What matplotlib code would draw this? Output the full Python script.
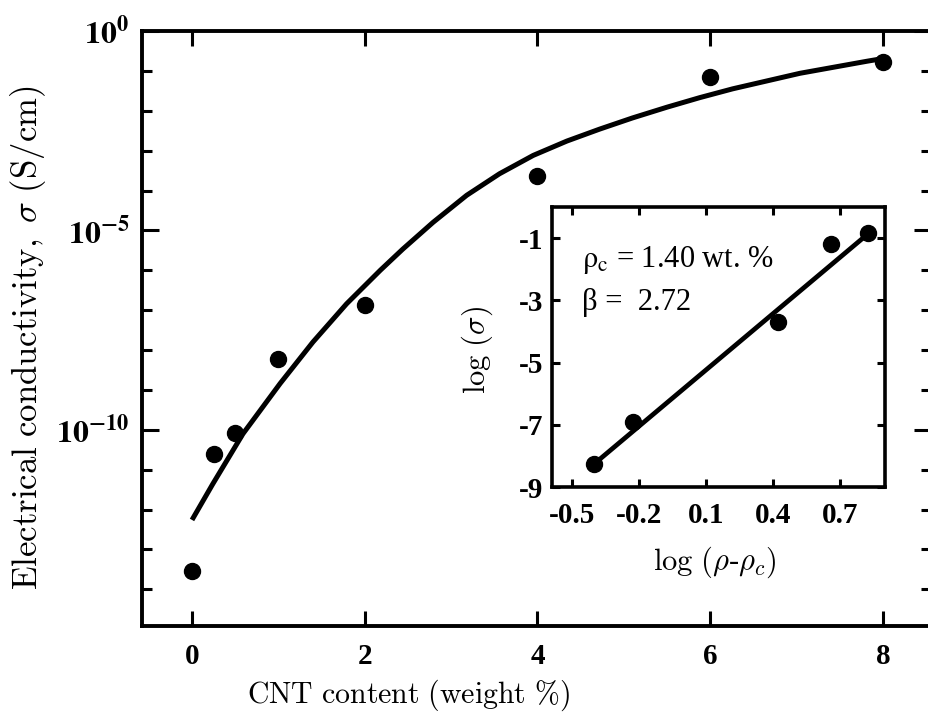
import numpy as np
import matplotlib
matplotlib.use("Agg")
import matplotlib.pyplot as plt
from matplotlib.ticker import FixedLocator, NullFormatter

plt.rcParams['axes.unicode_minus'] = False
plt.rcParams['mathtext.fontset'] = 'stix'
plt.rcParams['font.family'] = ['Liberation Serif', 'DejaVu Serif']

# ---- main data (CNT content vs conductivity) ----
cnt_wt = [0, 0.25, 0.5, 1, 2, 4, 6, 8]
log_sigma = [-13.54, -10.6, -10.08, -8.23, -6.88, -3.64, -1.16, -0.78]

# fitted curve
fit_x = [0.0, 0.24, 0.59, 1.02, 1.40, 1.79, 2.18, 2.44, 2.79, 3.18, 3.56, 3.95,
         4.34, 4.72, 5.10, 5.50, 5.88, 6.26, 7.04, 7.81, 8.0]
fit_log = [-12.26, -11.36, -10.10, -8.84, -7.80, -6.84, -6.00, -5.47, -4.80, -4.12,
           -3.58, -3.12, -2.76, -2.46, -2.18, -1.91, -1.67, -1.45, -1.06, -0.76, -0.69]

# ---- inset data ----
inset_x = [-0.40, -0.227, 0.42, 0.66, 0.826]
inset_y = [-8.27, -6.92, -3.70, -1.19, -0.85]
line_x = [-0.40, 0.826]
line_y = [-8.25, -0.85]

xticks_main = [0, 2, 4, 6, 8]
yticks_main = [1e-10, 1e-5, 1e0]
ytick_labels_main = [r'$\mathbf{10^{-10}}$', r'$\mathbf{10^{-5}}$', r'$\mathbf{10^{0}}$']
inset_xticks = [-0.5, -0.2, 0.1, 0.4, 0.7]
inset_xtick_labels = ['-0.5', '-0.2', '0.1', '0.4', '0.7']
inset_yticks = [-1, -3, -5, -7, -9]
inset_ytick_labels = ['-1', '-3', '-5', '-7', '-9']

W, H = 929, 719
fig = plt.figure(figsize=(W / 100, H / 100), dpi=100)

ax = fig.add_axes([142 / W, (H - 626) / H, (931 - 142) / W, (626 - 31) / H])
ax.set_yscale('log')
ax.plot(fit_x, [10 ** v for v in fit_log], color='black', lw=3.6,
        solid_capstyle='butt', solid_joinstyle='round', zorder=2)
ax.plot(cnt_wt, [10 ** v for v in log_sigma], 'o', color='black', ms=11.5, zorder=3)
ax.set_xlim(-0.579, 8.556)
ax.set_ylim(10 ** -14.92, 1.0)

for s in ax.spines.values():
    s.set_linewidth(2.8)

ax.set_xticks(xticks_main)
ax.set_xticklabels([str(v) for v in xticks_main], fontweight='bold', fontsize=21)
ax.yaxis.set_major_locator(FixedLocator(yticks_main))
ax.set_yticklabels(ytick_labels_main, fontsize=23)
minor_dec = [10.0 ** -k for k in range(1, 15) if k % 5 != 0]
ax.yaxis.set_minor_locator(FixedLocator(minor_dec))
ax.yaxis.set_minor_formatter(NullFormatter())
ax.tick_params(axis='both', which='major', direction='in', length=11, width=2.2,
               top=True, right=True)
ax.tick_params(axis='x', which='major', pad=12)
ax.tick_params(axis='y', which='major', pad=9, length=12)
ax.tick_params(axis='y', which='minor', direction='in', length=7, width=2.2,
               left=True, right=True)
ax.tick_params(axis='x', which='minor', bottom=False, top=False)

fig.text(408 / W, 1 - 695 / H, r'$\mathrm{CNT\ content\ (weight\ \%)}$',
         ha='center', va='center', fontsize=21.5, math_fontfamily='cm')
fig.text(28 / W, 1 - 338 / H, r'$\mathrm{Electrical\ conductivity,}\ \sigma\ \mathrm{(S/cm)}$',
         ha='center', va='center', rotation=90, fontsize=25, math_fontfamily='cm')

# ---- inset ----
axi = fig.add_axes([552 / W, (H - 487) / H, (885 - 552) / W, (487 - 207) / H])
axi.set_facecolor('white')
axi.plot(line_x, line_y, color='black', lw=3.4, solid_capstyle='butt', zorder=2)
axi.plot(inset_x, inset_y, 'o', color='black', ms=11.5, zorder=3)
axi.set_xlim(-0.59, 0.90)
axi.set_ylim(-9, 0)
for s in axi.spines.values():
    s.set_linewidth(2.6)
axi.set_xticks(inset_xticks)
axi.set_xticklabels(inset_xtick_labels, fontweight='bold', fontsize=21)
axi.set_yticks(inset_yticks)
axi.set_yticklabels(inset_ytick_labels, fontweight='bold', fontsize=21)
axi.tick_params(axis='both', direction='in', length=6, width=2.2, top=True, right=True)
axi.tick_params(axis='x', pad=11)
axi.tick_params(axis='y', pad=6)

axi.text(0.09, 0.81, r'$\mathrm{ρ_c}$' + ' = 1.40 wt. %', transform=axi.transAxes,
         fontsize=22, ha='left', va='center')
axi.text(0.09, 0.66, 'β =  2.72', transform=axi.transAxes,
         fontsize=22, ha='left', va='center')
fig.text(715 / W, 1 - 562 / H, r'$\mathrm{log\ (}\rho$' + '-' + r'$\rho_c\mathrm{)}$',
         ha='center', va='center', fontsize=22, math_fontfamily='cm')
fig.text(477 / W, 1 - 350 / H, r'$\mathrm{log}\ (\sigma)$',
         ha='center', va='center', rotation=90, fontsize=22, math_fontfamily='cm')

fig.savefig('out.png', dpi=100)
